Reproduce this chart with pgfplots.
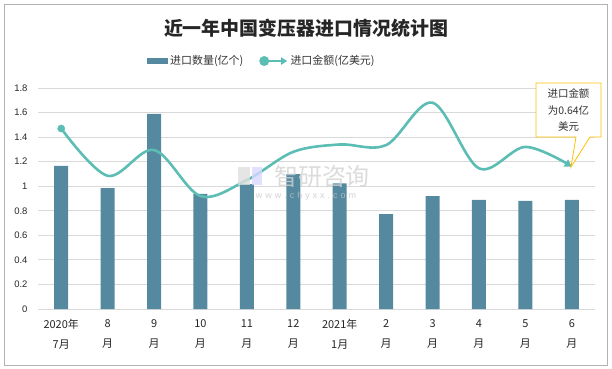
\documentclass[border=0pt]{standalone}
\usepackage{pgfplots}
\pgfplotsset{compat=1.18}
\usepackage{fontspec}
\setmainfont{Liberation Sans}
\newfontfamily\cjk{Noto Sans CJK SC}
\usetikzlibrary{arrows.meta}
\definecolor{barc}{RGB}{84,137,160}
\definecolor{linec}{RGB}{91,189,180}
\definecolor{callc}{RGB}{255,192,0}
\begin{document}
\begin{tikzpicture}[x=1bp,y=1bp]
\path (0,0) rectangle (612,368);
\draw[gray!60, line width=0.8bp] (4,3) rectangle (607,364);
\node[font=\cjk\bfseries\fontsize{19}{22}\selectfont, text=black!85] at (306,340) {近一年中国变压器进口情况统计图};
\begin{axis}[
  at={(38bp,59bp)}, anchor=south west,
  scale only axis, width=557bp, height=221bp,
  xmin=-0.5, xmax=11.5, ymin=0, ymax=1.8,
  ytick={0,0.2,0.4,0.6,0.8,1,1.2,1.4,1.6,1.8},
  xtick={0,...,11},
  xticklabels={{2020年\\7月},{8\\月},{9\\月},{10\\月},{11\\月},{12\\月},{2021年\\1月},{2\\月},{3\\月},{4\\月},{5\\月},{6\\月}},
  xticklabel style={align=center, font=\cjk\fontsize{11}{20}\selectfont, text=black!85, yshift=-7bp},
  yticklabel style={font=\fontsize{9.5}{11}\selectfont, text=black!85, xshift=-7bp},
  /pgf/number format/assume math mode=true,
  major tick length=0pt,
  axis line style={draw=none},
  ymajorgrids, grid style={gray!30, line width=0.8bp},
  legend style={at={(0.402,1.122)}, anchor=center, draw=none, fill=none, legend columns=2,
    font=\cjk\fontsize{11}{12}\selectfont, text=black!80,
    /tikz/every even column/.append style={column sep=14bp}},
  clip=false,
]
\addplot[ybar, bar width=14bp, bar shift=0pt, fill=barc, draw=none,
  legend image code/.code={\fill[barc] (0bp,-3bp) rectangle (21bp,3bp);}]
  coordinates {(0,1.165) (1,0.985) (2,1.59) (3,0.937) (4,1.018) (5,1.099) (6,1.023) (7,0.773) (8,0.92) (9,0.888) (10,0.88) (11,0.888)};
\addlegendentry{进口数量(亿个)}
\addplot[linec, line width=2.6bp, smooth, tension=0.55, -{Triangle[length=7bp,width=8bp]},
  legend image code/.code={\draw[linec,line width=2.6bp,-{Triangle[length=6bp,width=7bp]}] (0bp,0bp) -- (24bp,0bp); \fill[linec] (1bp,0bp) circle (3.6bp);}]
  coordinates {(0,1.47) (1,1.085) (2,1.295) (3,0.92) (4,1.05) (5,1.28) (6,1.34) (7,1.335) (8,1.68) (9,1.146) (10,1.32) (11,1.16)};
\addlegendentry{进口金额(亿美元)}
\addplot[only marks, mark=*, mark size=3.6bp, color=linec, forget plot] coordinates {(0,1.47)};
\end{axis}
\node[font=\cjk\fontsize{24}{26}\selectfont, text=gray!35, opacity=0.8] at (322,192) {智研咨询};
\fill[gray!25, opacity=0.8] (238,183) rectangle (250,201);
\fill[blue!15, opacity=0.8] (252,183) rectangle (262,201);
\node[font=\fontsize{9}{10}\selectfont, text=gray!45, opacity=0.8] at (306,172) {w\,\,w\,\,w\,\,.\,\,c\,\,h\,\,y\,\,x\,\,x\,\,.\,\,c\,\,o\,\,m};
\draw[callc, fill=white, line width=0.8bp] (536,285) -- (601,285) -- (601,231) -- (590,231) -- (571,201) -- (576,231) -- (536,231) -- cycle;
\node[align=center, font=\cjk\fontsize{10.5}{16.5}\selectfont, text=black!80] at (568.5,258) {进口金额\\为0.64亿\\美元};
\end{tikzpicture}
\end{document}
